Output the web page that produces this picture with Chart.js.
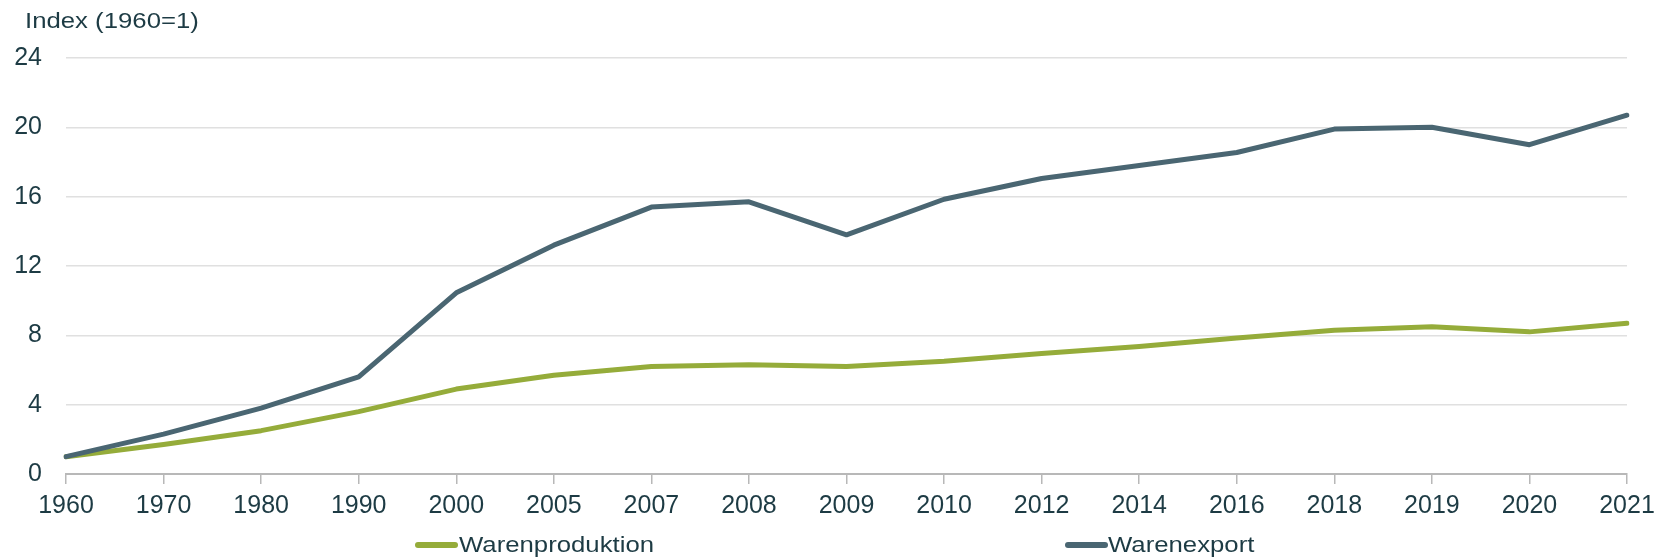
<!DOCTYPE html>
<html lang="de">
<head>
<meta charset="utf-8">
<title>Warenproduktion und Warenexport</title>
<script src="https://cdn.jsdelivr.net/npm/chart.js@4"></script>
<style>
  html, body { margin: 0; padding: 0; background: #fff; }
  #wrap { position: relative; width: 1667px; height: 560px; }
  #chart { position: absolute; left: 0; top: 0; }
  .txt {
    position: absolute;
    font-family: "Liberation Sans", Arial, sans-serif;
    font-size: 22px;
    line-height: 1;
    color: #1d3b44;
    white-space: nowrap;
    transform: scaleX(1.17);
    transform-origin: left center;
  }
  .key { position: absolute; height: 6px; width: 43px; border-radius: 3px; }
</style>
</head>
<body>
<div id="wrap">
  <canvas id="chart" width="1667" height="560"></canvas>
  <div class="txt" style="left:25px; top:10px;">Index (1960=1)</div>
  <div class="key" style="left:415px; top:542px; background:#95ac3a;"></div>
  <div class="txt" style="left:459px; top:534px;">Warenproduktion</div>
  <div class="key" style="left:1065px; top:542px; background:#4a6672;"></div>
  <div class="txt" style="left:1108px; top:534px;">Warenexport</div>
</div>
<script>
// years on the category axis (not evenly spaced in time)
const years = ['1960', '1970', '1980', '1990', '2000', '2005', '2007', '2008', '2009',
               '2010', '2012', '2014', '2016', '2018', '2019', '2020', '2021'];

// index values, 1960 = 1
const warenexport = [1.0, 2.3, 3.8, 5.6, 10.45, 13.2, 15.4, 15.7, 13.8,
                     15.85, 17.05, 17.8, 18.55, 19.9, 20.0, 19.0, 20.7];
const warenproduktion = [1.0, 1.7, 2.5, 3.6, 4.9, 5.7, 6.2, 6.3, 6.2,
                         6.5, 6.95, 7.35, 7.85, 8.3, 8.5, 8.2, 8.7];

const yTicks = [0, 4, 8, 12, 16, 20, 24];

const textColor = '#1d3b44';
const tickFont = { family: '"Liberation Sans", Arial, sans-serif', size: 25 };

const data = {
  labels: years,
  datasets: [
    {
      label: 'Warenexport',
      data: warenexport,
      borderColor: '#4a6672',
      borderWidth: 5,
      pointRadius: 0,
      tension: 0,
      fill: false
    },
    {
      label: 'Warenproduktion',
      data: warenproduktion,
      borderColor: '#95ac3a',
      borderWidth: 5,
      pointRadius: 0,
      tension: 0,
      fill: false
    }
  ]
};

const config = {
  type: 'line',
  data: data,
  options: {
    responsive: false,
    devicePixelRatio: 1,
    animation: false,
    layout: { padding: { top: 58, right: 40, bottom: 32, left: 0 } },
    plugins: {
      legend: { display: false },
      title: { display: false },
      tooltip: { enabled: false }
    },
    elements: { line: { borderJoinStyle: 'round', borderCapStyle: 'round' } },
    scales: {
      x: {
        offset: false,
        grid: {
          drawOnChartArea: false,
          drawTicks: true,
          tickLength: 10,
          color: '#b8b8b8',
          lineWidth: 1.5
        },
        border: { display: true, color: '#b8b8b8', width: 2 },
        ticks: {
          color: textColor,
          font: tickFont,
          padding: 7,
          maxRotation: 0,
          autoSkip: false
        }
      },
      y: {
        min: 0,
        max: 24,
        afterBuildTicks: axis => { axis.ticks = yTicks.map(v => ({ value: v })); },
        afterFit: axis => { axis.width = 66; },
        grid: { drawTicks: false, color: '#e0e0e0', lineWidth: 1.5 },
        border: { display: false },
        ticks: { color: textColor, font: tickFont, padding: 24 }
      }
    }
  }
};

window.addEventListener('load', () => {
  new Chart(document.getElementById('chart'), config);
});
</script>
</body>
</html>
